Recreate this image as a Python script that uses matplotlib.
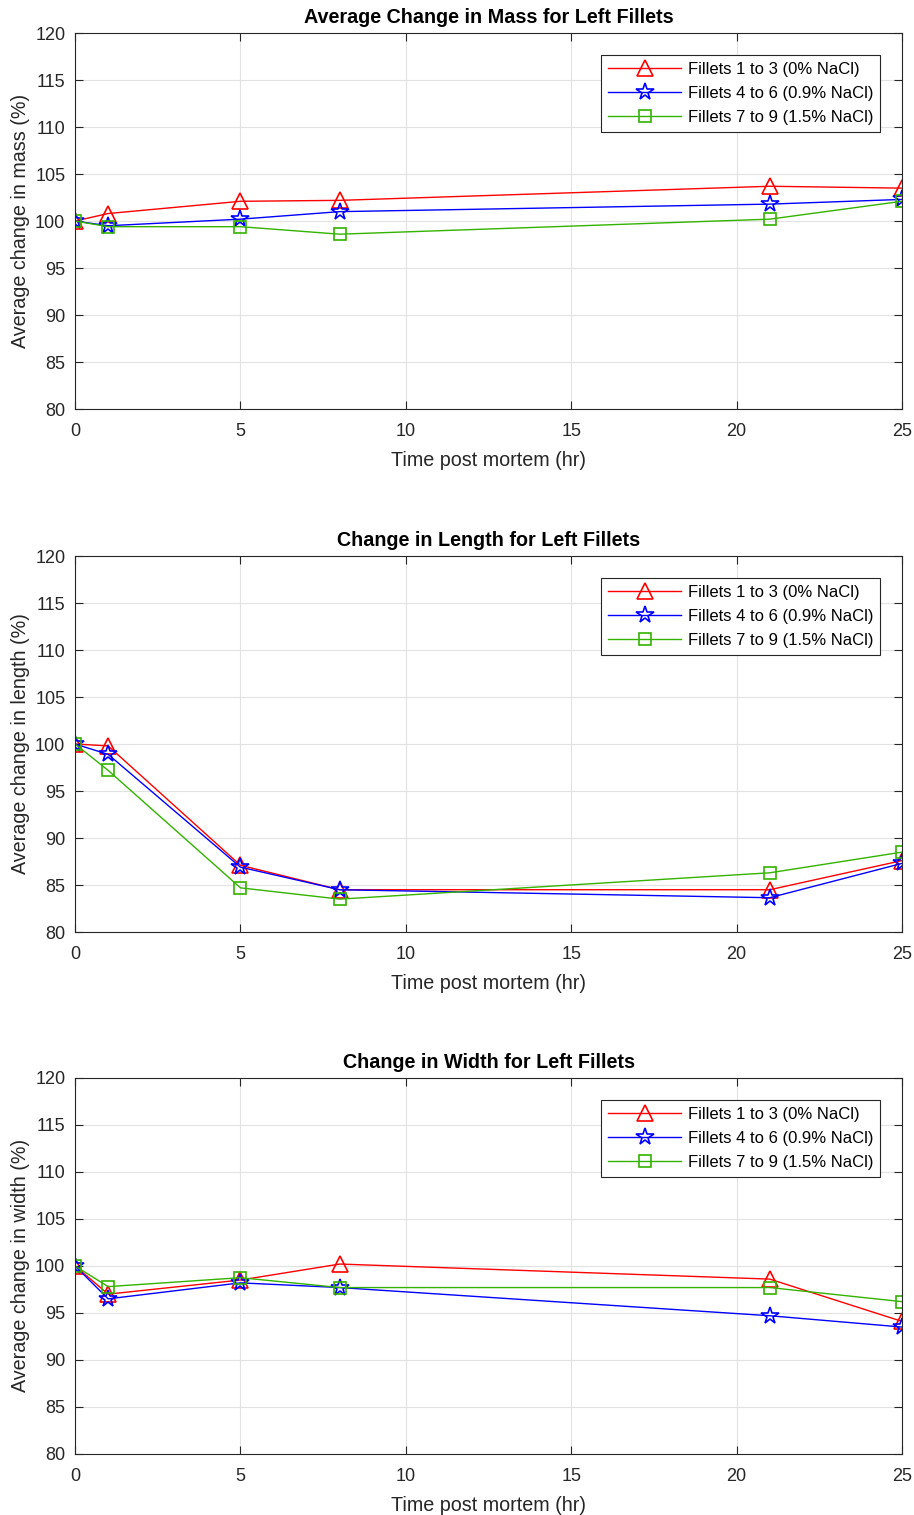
import matplotlib
matplotlib.use("Agg")
from matplotlib import pyplot as plt

plt.rcParams['font.family'] = ['Liberation Sans', 'DejaVu Sans']

# sampling times (hours post mortem)
hours = [0, 1, 5, 8, 21, 25]

# mass change (%)
mass_0 = [100, 100.8, 102.1, 102.2, 103.7, 103.5]
mass_09 = [100, 99.5, 100.2, 101.0, 101.8, 102.3]
mass_15 = [100, 99.4, 99.4, 98.6, 100.2, 102.1]

# length change (%)
length_0 = [100, 99.8, 87.1, 84.5, 84.5, 87.6]
length_09 = [100, 98.9, 86.9, 84.5, 83.65, 87.3]
length_15 = [100, 97.2, 84.7, 83.5, 86.3, 88.5]

# width change (%)
width_0 = [100, 97.0, 98.5, 100.2, 98.6, 94.1]
width_09 = [100, 96.5, 98.2, 97.7, 94.7, 93.5]
width_15 = [100, 97.8, 98.75, 97.7, 97.7, 96.2]

labels = ["Fillets 1 to 3 (0% NaCl)", "Fillets 4 to 6 (0.9% NaCl)",
          "Fillets 7 to 9 (1.5% NaCl)"]
titles = ["Average Change in Mass for Left Fillets",
          "Change in Length for Left Fillets",
          "Change in Width for Left Fillets"]
ylabels = ["Average change in mass (%)", "Average change in length (%)",
           "Average change in width (%)"]
data = [(mass_0, mass_09, mass_15),
        (length_0, length_09, length_15),
        (width_0, width_09, width_15)]

styles = [dict(color='red', marker='^', markersize=12),
          dict(color='blue', marker='*', markersize=13),
          dict(color=(0.2, 0.7, 0.0), marker='s', markersize=8.5)]

fig = plt.figure(figsize=(9.14, 15.15), dpi=100)
bottoms = [0.730, 0.3848, 0.0403]

for i in range(3):
    ax = fig.add_axes([0.0821, bottoms[i], 0.9048, 0.2482])
    for series, lab, st in zip(data[i], labels, styles):
        ax.plot(hours, series, label=lab, linewidth=1.0,
                markerfacecolor='none', markeredgewidth=1.2, **st)
    ax.set_xlim(0, 25)
    ax.set_ylim(80, 120)
    ax.set_xticks([0, 5, 10, 15, 20, 25])
    ax.set_yticks(range(80, 121, 5))
    ax.grid(True, color='#e2e2e2', linewidth=0.8)
    ax.set_axisbelow(True)
    ax.tick_params(direction='in', labelsize=13, colors='#262626', length=6,
                   top=True, right=True)
    ax.tick_params(axis='x', pad=10)
    ax.tick_params(axis='y', pad=7)
    for sp in ax.spines.values():
        sp.set_color('#262626')
        sp.set_linewidth(0.8)
    ax.set_title(titles[i], fontsize=14.2, fontweight='bold', pad=7)
    ax.set_xlabel("Time post mortem (hr)", fontsize=14.2, color='#262626',
                  labelpad=8)
    ax.set_ylabel(ylabels[i], fontsize=14.2, color='#262626', labelpad=4)
    leg = ax.legend(loc='upper right', bbox_to_anchor=(0.9734, 0.9415),
                    borderaxespad=0, fontsize=12, fancybox=False,
                    framealpha=1, edgecolor='#262626', handlelength=4.4,
                    handletextpad=0.4, borderpad=0.4, labelspacing=0.55)
    leg.get_frame().set_linewidth(0.8)

fig.savefig("out.png", dpi=100)
